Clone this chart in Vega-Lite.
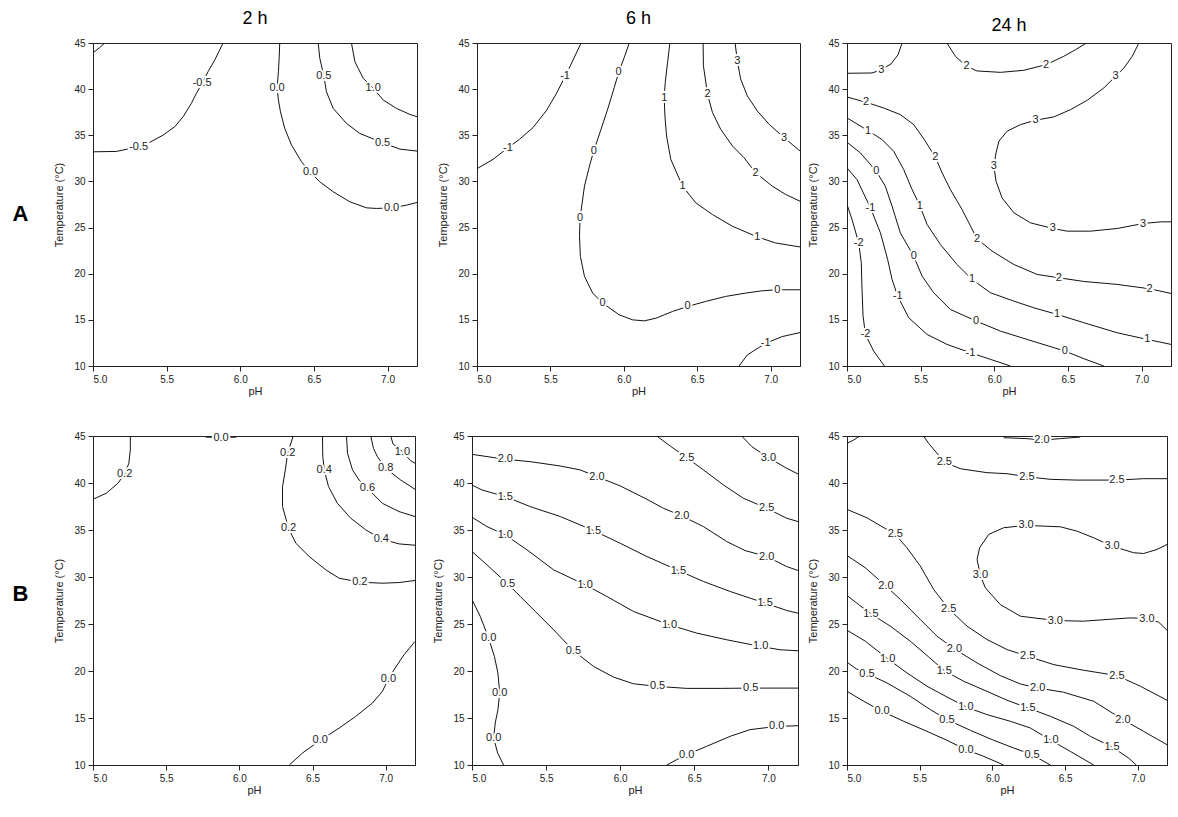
{
  "$schema": "https://vega.github.io/schema/vega-lite/v6.json",
  "padding": {"left": 12, "top": 9, "right": 5, "bottom": 5},
  "background": "white",
  "config": {
    "font": "Liberation Sans",
    "view": {"stroke": "#222", "strokeWidth": 1},
    "axis": {
      "grid": false, "domainColor": "#222", "tickColor": "#222", "labelColor": "#222",
      "labelFont": "Liberation Sans", "labelFontSize": 10, "tickSize": 5, "labelPadding": 3,
      "titleFont": "Liberation Sans", "titleFontSize": 11, "titleFontWeight": "normal", "titleColor": "#222"
    },
    "axisX": {"titlePadding": 1},
    "axisY": {"titlePadding": 9},
    "line": {"color": "#111", "strokeWidth": 1},
    "text": {"fontSize": 11, "color": "#222", "font": "Liberation Sans", "baseline": "middle"},
    "title": {"font": "Liberation Sans", "fontSize": 18, "fontWeight": "normal", "color": "#000", "anchor": "middle", "baseline": "alphabetic"}
  },
  "datasets": {
    "A1_lines": [
      {"id": 1, "pH": 5.005, "temp": 43.99}, {"id": 1, "pH": 5.045, "temp": 44.5}, {"id": 1, "pH": 5.08, "temp": 45},
      {"id": 2, "pH": 5.0, "temp": 33.21}, {"id": 2, "pH": 5.159, "temp": 33.25}, {"id": 2, "pH": 5.31, "temp": 33.76}, {"id": 2, "pH": 5.385, "temp": 34.23}, {"id": 2, "pH": 5.476, "temp": 35.02}, {"id": 2, "pH": 5.555, "temp": 35.93}, {"id": 2, "pH": 5.612, "temp": 37.01}, {"id": 2, "pH": 5.668, "temp": 38.46}, {"id": 2, "pH": 5.702, "temp": 39.54}, {"id": 2, "pH": 5.741, "temp": 40.63}, {"id": 2, "pH": 5.781, "temp": 41.89}, {"id": 2, "pH": 5.827, "temp": 43.16}, {"id": 2, "pH": 5.883, "temp": 45},
      {"id": 3, "pH": 6.268, "temp": 45}, {"id": 3, "pH": 6.264, "temp": 43.34}, {"id": 3, "pH": 6.259, "temp": 41.89}, {"id": 3, "pH": 6.25, "temp": 40.16}, {"id": 3, "pH": 6.259, "temp": 38.82}, {"id": 3, "pH": 6.273, "temp": 37.55}, {"id": 3, "pH": 6.302, "temp": 35.74}, {"id": 3, "pH": 6.348, "temp": 33.94}, {"id": 3, "pH": 6.416, "temp": 32.13}, {"id": 3, "pH": 6.477, "temp": 30.97}, {"id": 3, "pH": 6.54, "temp": 29.96}, {"id": 3, "pH": 6.631, "temp": 28.88}, {"id": 3, "pH": 6.744, "temp": 27.79}, {"id": 3, "pH": 6.857, "temp": 27.14}, {"id": 3, "pH": 6.925, "temp": 27.07}, {"id": 3, "pH": 7.027, "temp": 27.14}, {"id": 3, "pH": 7.129, "temp": 27.43}, {"id": 3, "pH": 7.2, "temp": 27.72},
      {"id": 4, "pH": 6.529, "temp": 45}, {"id": 4, "pH": 6.54, "temp": 43.34}, {"id": 4, "pH": 6.567, "temp": 41.46}, {"id": 4, "pH": 6.585, "temp": 39.72}, {"id": 4, "pH": 6.631, "temp": 37.91}, {"id": 4, "pH": 6.721, "temp": 36.29}, {"id": 4, "pH": 6.812, "temp": 35.2}, {"id": 4, "pH": 6.966, "temp": 34.19}, {"id": 4, "pH": 7.084, "temp": 33.5}, {"id": 4, "pH": 7.2, "temp": 33.29},
      {"id": 5, "pH": 6.755, "temp": 45}, {"id": 5, "pH": 6.778, "temp": 42.98}, {"id": 5, "pH": 6.835, "temp": 41.17}, {"id": 5, "pH": 6.903, "temp": 40.08}, {"id": 5, "pH": 6.971, "temp": 38.82}, {"id": 5, "pH": 7.061, "temp": 37.91}, {"id": 5, "pH": 7.152, "temp": 37.26}, {"id": 5, "pH": 7.2, "temp": 37.01}
    ],
    "A1_labels": [
      {"label": "-0.5", "pH": 5.31, "temp": 33.76}, {"label": "-0.5", "pH": 5.741, "temp": 40.63},
      {"label": "0.0", "pH": 6.25, "temp": 40.16}, {"label": "0.0", "pH": 6.477, "temp": 30.97}, {"label": "0.0", "pH": 7.027, "temp": 27.14},
      {"label": "0.5", "pH": 6.567, "temp": 41.46}, {"label": "0.5", "pH": 6.966, "temp": 34.19},
      {"label": "1.0", "pH": 6.903, "temp": 40.08}
    ],
    "A2_lines": [
      {"id": 1, "pH": 5.0, "temp": 31.38}, {"id": 1, "pH": 5.109, "temp": 32.39}, {"id": 1, "pH": 5.211, "temp": 33.66}, {"id": 1, "pH": 5.29, "temp": 34.57}, {"id": 1, "pH": 5.381, "temp": 35.83}, {"id": 1, "pH": 5.471, "temp": 37.64}, {"id": 1, "pH": 5.539, "temp": 39.46}, {"id": 1, "pH": 5.6, "temp": 41.38}, {"id": 1, "pH": 5.652, "temp": 43.08}, {"id": 1, "pH": 5.709, "temp": 45},
      {"id": 2, "pH": 6.785, "temp": 10}, {"id": 2, "pH": 6.841, "temp": 11.2}, {"id": 2, "pH": 6.966, "temp": 12.46}, {"id": 2, "pH": 7.079, "temp": 13.19}, {"id": 2, "pH": 7.2, "temp": 13.62},
      {"id": 3, "pH": 6.037, "temp": 45}, {"id": 3, "pH": 6.003, "temp": 43.44}, {"id": 3, "pH": 5.965, "temp": 41.81}, {"id": 3, "pH": 5.935, "temp": 40.18}, {"id": 3, "pH": 5.89, "temp": 37.83}, {"id": 3, "pH": 5.845, "temp": 35.65}, {"id": 3, "pH": 5.795, "temp": 33.3}, {"id": 3, "pH": 5.766, "temp": 31.67}, {"id": 3, "pH": 5.732, "temp": 29.49}, {"id": 3, "pH": 5.702, "temp": 26.05}, {"id": 3, "pH": 5.698, "temp": 24.06}, {"id": 3, "pH": 5.704, "temp": 21.88}, {"id": 3, "pH": 5.732, "temp": 19.71}, {"id": 3, "pH": 5.788, "temp": 17.9}, {"id": 3, "pH": 5.856, "temp": 16.81}, {"id": 3, "pH": 5.969, "temp": 15.54}, {"id": 3, "pH": 6.06, "temp": 15.0}, {"id": 3, "pH": 6.139, "temp": 14.89}, {"id": 3, "pH": 6.219, "temp": 15.18}, {"id": 3, "pH": 6.332, "temp": 15.91}, {"id": 3, "pH": 6.434, "temp": 16.45}, {"id": 3, "pH": 6.558, "temp": 17.0}, {"id": 3, "pH": 6.694, "temp": 17.54}, {"id": 3, "pH": 6.83, "temp": 17.9}, {"id": 3, "pH": 6.943, "temp": 18.15}, {"id": 3, "pH": 7.045, "temp": 18.26}, {"id": 3, "pH": 7.2, "temp": 18.26},
      {"id": 4, "pH": 6.314, "temp": 45}, {"id": 4, "pH": 6.298, "temp": 42.9}, {"id": 4, "pH": 6.282, "temp": 40.72}, {"id": 4, "pH": 6.275, "temp": 38.99}, {"id": 4, "pH": 6.28, "temp": 37.1}, {"id": 4, "pH": 6.291, "temp": 34.93}, {"id": 4, "pH": 6.32, "temp": 32.39}, {"id": 4, "pH": 6.4, "temp": 29.49}, {"id": 4, "pH": 6.49, "temp": 27.68}, {"id": 4, "pH": 6.604, "temp": 26.41}, {"id": 4, "pH": 6.74, "temp": 25.14}, {"id": 4, "pH": 6.909, "temp": 23.99}, {"id": 4, "pH": 7.034, "temp": 23.33}, {"id": 4, "pH": 7.2, "temp": 22.9},
      {"id": 5, "pH": 6.54, "temp": 45}, {"id": 5, "pH": 6.542, "temp": 42.54}, {"id": 5, "pH": 6.57, "temp": 39.46}, {"id": 5, "pH": 6.604, "temp": 37.46}, {"id": 5, "pH": 6.66, "temp": 35.65}, {"id": 5, "pH": 6.74, "temp": 33.84}, {"id": 5, "pH": 6.819, "temp": 32.57}, {"id": 5, "pH": 6.898, "temp": 30.94}, {"id": 5, "pH": 7.011, "temp": 29.49}, {"id": 5, "pH": 7.102, "temp": 28.59}, {"id": 5, "pH": 7.2, "temp": 27.86},
      {"id": 6, "pH": 6.758, "temp": 45}, {"id": 6, "pH": 6.773, "temp": 43.08}, {"id": 6, "pH": 6.796, "temp": 41.09}, {"id": 6, "pH": 6.841, "temp": 39.28}, {"id": 6, "pH": 6.909, "temp": 37.64}, {"id": 6, "pH": 6.989, "temp": 36.2}, {"id": 6, "pH": 7.091, "temp": 34.75}, {"id": 6, "pH": 7.2, "temp": 33.3}
    ],
    "A2_labels": [
      {"label": "-1", "pH": 5.211, "temp": 33.66}, {"label": "-1", "pH": 5.6, "temp": 41.38}, {"label": "-1", "pH": 6.966, "temp": 12.46},
      {"label": "0", "pH": 5.965, "temp": 41.81}, {"label": "0", "pH": 5.795, "temp": 33.3}, {"label": "0", "pH": 5.702, "temp": 26.05}, {"label": "0", "pH": 5.856, "temp": 16.81}, {"label": "0", "pH": 6.434, "temp": 16.45}, {"label": "0", "pH": 7.045, "temp": 18.26},
      {"label": "1", "pH": 6.275, "temp": 38.99}, {"label": "1", "pH": 6.4, "temp": 29.49}, {"label": "1", "pH": 6.909, "temp": 23.99},
      {"label": "2", "pH": 6.57, "temp": 39.46}, {"label": "2", "pH": 6.898, "temp": 30.94},
      {"label": "3", "pH": 6.773, "temp": 43.08}, {"label": "3", "pH": 7.091, "temp": 34.75}
    ],
    "A3_lines": [
      {"id": 1, "pH": 5.0, "temp": 41.72}, {"id": 1, "pH": 5.17, "temp": 41.75}, {"id": 1, "pH": 5.233, "temp": 42.11}, {"id": 1, "pH": 5.299, "temp": 42.73}, {"id": 1, "pH": 5.347, "temp": 43.74}, {"id": 1, "pH": 5.374, "temp": 45},
      {"id": 2, "pH": 5.679, "temp": 45}, {"id": 2, "pH": 5.736, "temp": 43.56}, {"id": 2, "pH": 5.811, "temp": 42.47}, {"id": 2, "pH": 5.883, "temp": 41.97}, {"id": 2, "pH": 6.042, "temp": 41.82}, {"id": 2, "pH": 6.2, "temp": 42.04}, {"id": 2, "pH": 6.352, "temp": 42.65}, {"id": 2, "pH": 6.472, "temp": 43.56}, {"id": 2, "pH": 6.552, "temp": 44.28}, {"id": 2, "pH": 6.626, "temp": 45},
      {"id": 3, "pH": 6.982, "temp": 45}, {"id": 3, "pH": 6.937, "temp": 43.56}, {"id": 3, "pH": 6.88, "temp": 42.29}, {"id": 3, "pH": 6.823, "temp": 41.39}, {"id": 3, "pH": 6.744, "temp": 40.13}, {"id": 3, "pH": 6.631, "temp": 38.79}, {"id": 3, "pH": 6.518, "temp": 37.78}, {"id": 3, "pH": 6.404, "temp": 36.99}, {"id": 3, "pH": 6.28, "temp": 36.63}, {"id": 3, "pH": 6.178, "temp": 36.16}, {"id": 3, "pH": 6.087, "temp": 35.44}, {"id": 3, "pH": 6.031, "temp": 34.35}, {"id": 3, "pH": 6.012, "temp": 33.09}, {"id": 3, "pH": 5.997, "temp": 31.65}, {"id": 3, "pH": 6.012, "temp": 30.02}, {"id": 3, "pH": 6.053, "temp": 28.22}, {"id": 3, "pH": 6.133, "temp": 26.6}, {"id": 3, "pH": 6.246, "temp": 25.51}, {"id": 3, "pH": 6.398, "temp": 24.9}, {"id": 3, "pH": 6.495, "temp": 24.61}, {"id": 3, "pH": 6.653, "temp": 24.61}, {"id": 3, "pH": 6.835, "temp": 24.9}, {"id": 3, "pH": 7.011, "temp": 25.44}, {"id": 3, "pH": 7.129, "temp": 25.62}, {"id": 3, "pH": 7.2, "temp": 25.62},
      {"id": 4, "pH": 5.0, "temp": 39.15}, {"id": 4, "pH": 5.129, "temp": 38.58}, {"id": 4, "pH": 5.249, "temp": 37.96}, {"id": 4, "pH": 5.362, "temp": 37.24}, {"id": 4, "pH": 5.453, "temp": 36.16}, {"id": 4, "pH": 5.525, "temp": 34.53}, {"id": 4, "pH": 5.6, "temp": 32.62}, {"id": 4, "pH": 5.646, "temp": 30.93}, {"id": 4, "pH": 5.702, "temp": 29.12}, {"id": 4, "pH": 5.781, "temp": 26.96}, {"id": 4, "pH": 5.883, "temp": 23.78}, {"id": 4, "pH": 5.985, "temp": 22.45}, {"id": 4, "pH": 6.133, "temp": 21.0}, {"id": 4, "pH": 6.291, "temp": 19.92}, {"id": 4, "pH": 6.438, "temp": 19.56}, {"id": 4, "pH": 6.608, "temp": 19.16}, {"id": 4, "pH": 6.835, "temp": 18.84}, {"id": 4, "pH": 7.054, "temp": 18.37}, {"id": 4, "pH": 7.2, "temp": 17.86},
      {"id": 5, "pH": 5.0, "temp": 36.88}, {"id": 5, "pH": 5.143, "temp": 35.51}, {"id": 5, "pH": 5.238, "temp": 34.53}, {"id": 5, "pH": 5.317, "temp": 33.27}, {"id": 5, "pH": 5.385, "temp": 31.29}, {"id": 5, "pH": 5.442, "temp": 29.12}, {"id": 5, "pH": 5.494, "temp": 27.39}, {"id": 5, "pH": 5.544, "temp": 25.33}, {"id": 5, "pH": 5.634, "temp": 23.17}, {"id": 5, "pH": 5.747, "temp": 21.0}, {"id": 5, "pH": 5.849, "temp": 19.38}, {"id": 5, "pH": 5.974, "temp": 17.94}, {"id": 5, "pH": 6.133, "temp": 17.03}, {"id": 5, "pH": 6.268, "temp": 16.31}, {"id": 5, "pH": 6.427, "temp": 15.59}, {"id": 5, "pH": 6.608, "temp": 14.69}, {"id": 5, "pH": 6.835, "temp": 13.6}, {"id": 5, "pH": 7.039, "temp": 12.88}, {"id": 5, "pH": 7.2, "temp": 12.34},
      {"id": 6, "pH": 5.0, "temp": 34.25}, {"id": 6, "pH": 5.091, "temp": 33.09}, {"id": 6, "pH": 5.199, "temp": 31.11}, {"id": 6, "pH": 5.26, "temp": 29.48}, {"id": 6, "pH": 5.306, "temp": 27.32}, {"id": 6, "pH": 5.362, "temp": 24.43}, {"id": 6, "pH": 5.453, "temp": 21.9}, {"id": 6, "pH": 5.51, "temp": 19.74}, {"id": 6, "pH": 5.589, "temp": 17.93}, {"id": 6, "pH": 5.702, "temp": 16.13}, {"id": 6, "pH": 5.877, "temp": 14.87}, {"id": 6, "pH": 6.042, "temp": 13.78}, {"id": 6, "pH": 6.223, "temp": 12.88}, {"id": 6, "pH": 6.479, "temp": 11.62}, {"id": 6, "pH": 6.608, "temp": 10.79}, {"id": 6, "pH": 6.744, "temp": 10.0},
      {"id": 7, "pH": 5.0, "temp": 31.47}, {"id": 7, "pH": 5.068, "temp": 30.2}, {"id": 7, "pH": 5.159, "temp": 27.14}, {"id": 7, "pH": 5.227, "temp": 24.43}, {"id": 7, "pH": 5.276, "temp": 21.54}, {"id": 7, "pH": 5.306, "temp": 19.38}, {"id": 7, "pH": 5.344, "temp": 17.57}, {"id": 7, "pH": 5.419, "temp": 15.23}, {"id": 7, "pH": 5.544, "temp": 13.42}, {"id": 7, "pH": 5.679, "temp": 12.34}, {"id": 7, "pH": 5.838, "temp": 11.44}, {"id": 7, "pH": 5.974, "temp": 10.72}, {"id": 7, "pH": 6.11, "temp": 10.0},
      {"id": 8, "pH": 5.0, "temp": 27.5}, {"id": 8, "pH": 5.034, "temp": 25.88}, {"id": 8, "pH": 5.079, "temp": 23.37}, {"id": 8, "pH": 5.097, "temp": 21.2}, {"id": 8, "pH": 5.102, "temp": 18.34}, {"id": 8, "pH": 5.109, "temp": 15.45}, {"id": 8, "pH": 5.125, "temp": 13.42}, {"id": 8, "pH": 5.181, "temp": 11.62}, {"id": 8, "pH": 5.254, "temp": 10.0}
    ],
    "A3_labels": [
      {"label": "3", "pH": 5.233, "temp": 42.11}, {"label": "2", "pH": 5.811, "temp": 42.47}, {"label": "2", "pH": 6.352, "temp": 42.65},
      {"label": "3", "pH": 6.823, "temp": 41.39}, {"label": "3", "pH": 6.28, "temp": 36.63}, {"label": "3", "pH": 5.997, "temp": 31.65}, {"label": "3", "pH": 6.398, "temp": 24.9}, {"label": "3", "pH": 7.011, "temp": 25.44},
      {"label": "2", "pH": 5.129, "temp": 38.58}, {"label": "2", "pH": 5.6, "temp": 32.62}, {"label": "2", "pH": 5.883, "temp": 23.78}, {"label": "2", "pH": 6.438, "temp": 19.56}, {"label": "2", "pH": 7.054, "temp": 18.37},
      {"label": "1", "pH": 5.143, "temp": 35.51}, {"label": "1", "pH": 5.494, "temp": 27.39}, {"label": "1", "pH": 5.849, "temp": 19.38}, {"label": "1", "pH": 6.427, "temp": 15.59}, {"label": "1", "pH": 7.039, "temp": 12.88},
      {"label": "0", "pH": 5.199, "temp": 31.11}, {"label": "0", "pH": 5.453, "temp": 21.9}, {"label": "0", "pH": 5.877, "temp": 14.87}, {"label": "0", "pH": 6.479, "temp": 11.62},
      {"label": "-1", "pH": 5.159, "temp": 27.14}, {"label": "-1", "pH": 5.344, "temp": 17.57}, {"label": "-1", "pH": 5.838, "temp": 11.44},
      {"label": "-2", "pH": 5.079, "temp": 23.37}, {"label": "-2", "pH": 5.125, "temp": 13.42}
    ],
    "B1_lines": [
      {"id": 1, "pH": 5.0, "temp": 38.27}, {"id": 1, "pH": 5.091, "temp": 38.91}, {"id": 1, "pH": 5.17, "temp": 39.97}, {"id": 1, "pH": 5.216, "temp": 40.93}, {"id": 1, "pH": 5.245, "temp": 42.1}, {"id": 1, "pH": 5.255, "temp": 43.51}, {"id": 1, "pH": 5.255, "temp": 45},
      {"id": 2, "pH": 5.77, "temp": 44.88}, {"id": 2, "pH": 5.875, "temp": 44.85}, {"id": 2, "pH": 5.98, "temp": 44.88},
      {"id": 3, "pH": 6.368, "temp": 45}, {"id": 3, "pH": 6.33, "temp": 43.16}, {"id": 3, "pH": 6.314, "temp": 41.39}, {"id": 3, "pH": 6.295, "temp": 39.62}, {"id": 3, "pH": 6.295, "temp": 37.49}, {"id": 3, "pH": 6.336, "temp": 35.19}, {"id": 3, "pH": 6.386, "temp": 33.59}, {"id": 3, "pH": 6.477, "temp": 32.18}, {"id": 3, "pH": 6.591, "temp": 30.76}, {"id": 3, "pH": 6.682, "temp": 29.87}, {"id": 3, "pH": 6.823, "temp": 29.45}, {"id": 3, "pH": 6.977, "temp": 29.34}, {"id": 3, "pH": 7.091, "temp": 29.41}, {"id": 3, "pH": 7.2, "temp": 29.63},
      {"id": 4, "pH": 6.568, "temp": 45}, {"id": 4, "pH": 6.57, "temp": 42.8}, {"id": 4, "pH": 6.58, "temp": 41.39}, {"id": 4, "pH": 6.609, "temp": 39.62}, {"id": 4, "pH": 6.67, "temp": 37.84}, {"id": 4, "pH": 6.761, "temp": 36.25}, {"id": 4, "pH": 6.864, "temp": 35.01}, {"id": 4, "pH": 6.97, "temp": 34.05}, {"id": 4, "pH": 7.091, "temp": 33.52}, {"id": 4, "pH": 7.2, "temp": 33.38},
      {"id": 5, "pH": 6.732, "temp": 45}, {"id": 5, "pH": 6.739, "temp": 43.16}, {"id": 5, "pH": 6.773, "temp": 41.39}, {"id": 5, "pH": 6.818, "temp": 40.32}, {"id": 5, "pH": 6.875, "temp": 39.44}, {"id": 5, "pH": 6.977, "temp": 37.84}, {"id": 5, "pH": 7.091, "temp": 36.96}, {"id": 5, "pH": 7.2, "temp": 36.43},
      {"id": 6, "pH": 6.898, "temp": 45}, {"id": 6, "pH": 6.916, "temp": 43.69}, {"id": 6, "pH": 6.943, "temp": 42.8}, {"id": 6, "pH": 7.0, "temp": 41.56}, {"id": 6, "pH": 7.102, "temp": 40.32}, {"id": 6, "pH": 7.2, "temp": 39.33},
      {"id": 7, "pH": 7.034, "temp": 45}, {"id": 7, "pH": 7.05, "temp": 44.15}, {"id": 7, "pH": 7.114, "temp": 43.34}, {"id": 7, "pH": 7.17, "temp": 42.38}, {"id": 7, "pH": 7.2, "temp": 42.1},
      {"id": 8, "pH": 6.341, "temp": 10}, {"id": 8, "pH": 6.432, "temp": 11.28}, {"id": 8, "pH": 6.552, "temp": 12.62}, {"id": 8, "pH": 6.682, "temp": 13.93}, {"id": 8, "pH": 6.795, "temp": 15.17}, {"id": 8, "pH": 6.909, "temp": 16.59}, {"id": 8, "pH": 6.977, "temp": 17.83}, {"id": 8, "pH": 7.018, "temp": 19.14}, {"id": 8, "pH": 7.064, "temp": 20.31}, {"id": 8, "pH": 7.125, "temp": 21.73}, {"id": 8, "pH": 7.2, "temp": 23.14}
    ],
    "B1_labels": [
      {"label": "0.2", "pH": 5.216, "temp": 40.93}, {"label": "0.0", "pH": 5.875, "temp": 44.75},
      {"label": "0.2", "pH": 6.33, "temp": 43.16}, {"label": "0.2", "pH": 6.336, "temp": 35.19}, {"label": "0.2", "pH": 6.823, "temp": 29.45},
      {"label": "0.4", "pH": 6.58, "temp": 41.39}, {"label": "0.4", "pH": 6.97, "temp": 34.05},
      {"label": "0.6", "pH": 6.875, "temp": 39.44}, {"label": "0.8", "pH": 7.0, "temp": 41.56}, {"label": "1.0", "pH": 7.114, "temp": 43.34},
      {"label": "0.0", "pH": 6.552, "temp": 12.62}, {"label": "0.0", "pH": 7.018, "temp": 19.14}
    ],
    "B2_lines": [
      {"id": 1, "pH": 5.0, "temp": 43.05}, {"id": 1, "pH": 5.225, "temp": 42.52}, {"id": 1, "pH": 5.393, "temp": 42.27}, {"id": 1, "pH": 5.596, "temp": 41.81}, {"id": 1, "pH": 5.73, "temp": 41.39}, {"id": 1, "pH": 5.843, "temp": 40.68}, {"id": 1, "pH": 6.0, "temp": 39.69}, {"id": 1, "pH": 6.18, "temp": 38.27}, {"id": 1, "pH": 6.292, "temp": 37.31}, {"id": 1, "pH": 6.416, "temp": 36.5}, {"id": 1, "pH": 6.562, "temp": 35.36}, {"id": 1, "pH": 6.719, "temp": 33.77}, {"id": 1, "pH": 6.843, "temp": 32.81}, {"id": 1, "pH": 6.989, "temp": 32.18}, {"id": 1, "pH": 7.124, "temp": 31.11}, {"id": 1, "pH": 7.2, "temp": 30.69},
      {"id": 2, "pH": 6.247, "temp": 45}, {"id": 2, "pH": 6.337, "temp": 43.94}, {"id": 2, "pH": 6.449, "temp": 42.7}, {"id": 2, "pH": 6.562, "temp": 41.39}, {"id": 2, "pH": 6.697, "temp": 39.79}, {"id": 2, "pH": 6.831, "temp": 38.38}, {"id": 2, "pH": 6.989, "temp": 37.31}, {"id": 2, "pH": 7.124, "temp": 36.25}, {"id": 2, "pH": 7.2, "temp": 35.9},
      {"id": 3, "pH": 6.82, "temp": 45}, {"id": 3, "pH": 6.888, "temp": 43.87}, {"id": 3, "pH": 7.0, "temp": 42.7}, {"id": 3, "pH": 7.124, "temp": 41.56}, {"id": 3, "pH": 7.2, "temp": 40.96},
      {"id": 4, "pH": 5.0, "temp": 39.79}, {"id": 4, "pH": 5.067, "temp": 39.26}, {"id": 4, "pH": 5.225, "temp": 38.55}, {"id": 4, "pH": 5.393, "temp": 37.49}, {"id": 4, "pH": 5.596, "temp": 36.43}, {"id": 4, "pH": 5.82, "temp": 34.94}, {"id": 4, "pH": 6.0, "temp": 33.59}, {"id": 4, "pH": 6.18, "temp": 32.18}, {"id": 4, "pH": 6.393, "temp": 30.69}, {"id": 4, "pH": 6.562, "temp": 29.52}, {"id": 4, "pH": 6.742, "temp": 28.46}, {"id": 4, "pH": 6.978, "temp": 27.22}, {"id": 4, "pH": 7.124, "temp": 26.44}, {"id": 4, "pH": 7.2, "temp": 26.15},
      {"id": 5, "pH": 5.0, "temp": 36.36}, {"id": 5, "pH": 5.101, "temp": 35.36}, {"id": 5, "pH": 5.225, "temp": 34.48}, {"id": 5, "pH": 5.371, "temp": 32.89}, {"id": 5, "pH": 5.551, "temp": 30.76}, {"id": 5, "pH": 5.764, "temp": 29.17}, {"id": 5, "pH": 5.91, "temp": 27.93}, {"id": 5, "pH": 6.09, "temp": 26.33}, {"id": 5, "pH": 6.333, "temp": 24.91}, {"id": 5, "pH": 6.517, "temp": 24.03}, {"id": 5, "pH": 6.719, "temp": 23.32}, {"id": 5, "pH": 6.948, "temp": 22.61}, {"id": 5, "pH": 7.079, "temp": 22.26}, {"id": 5, "pH": 7.2, "temp": 22.15},
      {"id": 6, "pH": 5.0, "temp": 32.71}, {"id": 6, "pH": 5.101, "temp": 31.29}, {"id": 6, "pH": 5.24, "temp": 29.27}, {"id": 6, "pH": 5.326, "temp": 27.93}, {"id": 6, "pH": 5.427, "temp": 26.33}, {"id": 6, "pH": 5.551, "temp": 24.38}, {"id": 6, "pH": 5.685, "temp": 22.15}, {"id": 6, "pH": 5.82, "temp": 20.49}, {"id": 6, "pH": 5.955, "temp": 19.35}, {"id": 6, "pH": 6.09, "temp": 18.64}, {"id": 6, "pH": 6.252, "temp": 18.36}, {"id": 6, "pH": 6.449, "temp": 18.15}, {"id": 6, "pH": 6.674, "temp": 18.15}, {"id": 6, "pH": 6.881, "temp": 18.18}, {"id": 6, "pH": 7.2, "temp": 18.18},
      {"id": 7, "pH": 5.0, "temp": 27.6}, {"id": 7, "pH": 5.056, "temp": 25.8}, {"id": 7, "pH": 5.112, "temp": 23.5}, {"id": 7, "pH": 5.151, "temp": 21.55}, {"id": 7, "pH": 5.175, "temp": 19.78}, {"id": 7, "pH": 5.187, "temp": 17.65}, {"id": 7, "pH": 5.175, "temp": 15.88}, {"id": 7, "pH": 5.157, "temp": 14.47}, {"id": 7, "pH": 5.146, "temp": 12.87}, {"id": 7, "pH": 5.173, "temp": 11.28}, {"id": 7, "pH": 5.213, "temp": 10.0},
      {"id": 8, "pH": 6.315, "temp": 10}, {"id": 8, "pH": 6.382, "temp": 10.57}, {"id": 8, "pH": 6.449, "temp": 11.1}, {"id": 8, "pH": 6.584, "temp": 11.99}, {"id": 8, "pH": 6.742, "temp": 13.05}, {"id": 8, "pH": 6.876, "temp": 13.76}, {"id": 8, "pH": 7.056, "temp": 14.11}, {"id": 8, "pH": 7.2, "temp": 14.18}
    ],
    "B2_labels": [
      {"label": "2.0", "pH": 5.225, "temp": 42.52}, {"label": "2.0", "pH": 5.843, "temp": 40.68}, {"label": "2.0", "pH": 6.416, "temp": 36.5}, {"label": "2.0", "pH": 6.989, "temp": 32.18},
      {"label": "2.5", "pH": 6.449, "temp": 42.7}, {"label": "2.5", "pH": 6.989, "temp": 37.31}, {"label": "3.0", "pH": 7.0, "temp": 42.7},
      {"label": "1.5", "pH": 5.225, "temp": 38.55}, {"label": "1.5", "pH": 5.82, "temp": 34.94}, {"label": "1.5", "pH": 6.393, "temp": 30.69}, {"label": "1.5", "pH": 6.978, "temp": 27.22},
      {"label": "1.0", "pH": 5.225, "temp": 34.48}, {"label": "1.0", "pH": 5.764, "temp": 29.17}, {"label": "1.0", "pH": 6.333, "temp": 24.91}, {"label": "1.0", "pH": 6.948, "temp": 22.61},
      {"label": "0.5", "pH": 5.24, "temp": 29.27}, {"label": "0.5", "pH": 5.685, "temp": 22.15}, {"label": "0.5", "pH": 6.252, "temp": 18.36}, {"label": "0.5", "pH": 6.881, "temp": 18.18},
      {"label": "0.0", "pH": 5.112, "temp": 23.5}, {"label": "0.0", "pH": 5.187, "temp": 17.65}, {"label": "0.0", "pH": 5.146, "temp": 12.87}, {"label": "0.0", "pH": 6.449, "temp": 11.1}, {"label": "0.0", "pH": 7.056, "temp": 14.11}
    ],
    "B3_lines": [
      {"id": 1, "pH": 5.0, "temp": 44.22}, {"id": 1, "pH": 5.046, "temp": 44.57}, {"id": 1, "pH": 5.087, "temp": 45},
      {"id": 2, "pH": 6.077, "temp": 44.82}, {"id": 2, "pH": 6.237, "temp": 44.72}, {"id": 2, "pH": 6.34, "temp": 44.57}, {"id": 2, "pH": 6.467, "temp": 44.72}, {"id": 2, "pH": 6.604, "temp": 44.89},
      {"id": 3, "pH": 5.527, "temp": 45}, {"id": 3, "pH": 5.561, "temp": 44.22}, {"id": 3, "pH": 5.669, "temp": 42.23}, {"id": 3, "pH": 5.779, "temp": 41.52}, {"id": 3, "pH": 5.962, "temp": 41.1}, {"id": 3, "pH": 6.1, "temp": 40.99}, {"id": 3, "pH": 6.237, "temp": 40.67}, {"id": 3, "pH": 6.398, "temp": 40.39}, {"id": 3, "pH": 6.581, "temp": 40.31}, {"id": 3, "pH": 6.856, "temp": 40.31}, {"id": 3, "pH": 7.039, "temp": 40.46}, {"id": 3, "pH": 7.2, "temp": 40.46},
      {"id": 4, "pH": 5.0, "temp": 37.19}, {"id": 4, "pH": 5.137, "temp": 36.3}, {"id": 4, "pH": 5.332, "temp": 34.53}, {"id": 4, "pH": 5.412, "temp": 33.11}, {"id": 4, "pH": 5.504, "temp": 31.16}, {"id": 4, "pH": 5.596, "temp": 28.67}, {"id": 4, "pH": 5.699, "temp": 26.61}, {"id": 4, "pH": 5.825, "temp": 24.77}, {"id": 4, "pH": 5.962, "temp": 23.35}, {"id": 4, "pH": 6.1, "temp": 22.28}, {"id": 4, "pH": 6.242, "temp": 21.57}, {"id": 4, "pH": 6.421, "temp": 20.68}, {"id": 4, "pH": 6.627, "temp": 20.08}, {"id": 4, "pH": 6.856, "temp": 19.51}, {"id": 4, "pH": 7.017, "temp": 18.38}, {"id": 4, "pH": 7.2, "temp": 16.89},
      {"id": 5, "pH": 7.2, "temp": 33.46}, {"id": 5, "pH": 7.131, "temp": 32.93}, {"id": 5, "pH": 7.039, "temp": 32.5}, {"id": 5, "pH": 6.971, "temp": 32.58}, {"id": 5, "pH": 6.822, "temp": 33.29}, {"id": 5, "pH": 6.696, "temp": 34.17}, {"id": 5, "pH": 6.581, "temp": 34.88}, {"id": 5, "pH": 6.467, "temp": 35.34}, {"id": 5, "pH": 6.231, "temp": 35.49}, {"id": 5, "pH": 6.077, "temp": 35.24}, {"id": 5, "pH": 5.974, "temp": 34.53}, {"id": 5, "pH": 5.912, "temp": 33.11}, {"id": 5, "pH": 5.894, "temp": 31.87}, {"id": 5, "pH": 5.917, "temp": 30.16}, {"id": 5, "pH": 5.951, "temp": 28.85}, {"id": 5, "pH": 6.054, "temp": 27.07}, {"id": 5, "pH": 6.192, "temp": 25.83}, {"id": 5, "pH": 6.432, "temp": 25.37}, {"id": 5, "pH": 6.627, "temp": 25.3}, {"id": 5, "pH": 6.787, "temp": 25.48}, {"id": 5, "pH": 6.948, "temp": 25.65}, {"id": 5, "pH": 7.062, "temp": 25.58}, {"id": 5, "pH": 7.143, "temp": 25.19}, {"id": 5, "pH": 7.2, "temp": 24.34},
      {"id": 6, "pH": 5.0, "temp": 32.29}, {"id": 6, "pH": 5.126, "temp": 30.98}, {"id": 6, "pH": 5.268, "temp": 29.03}, {"id": 6, "pH": 5.367, "temp": 27.61}, {"id": 6, "pH": 5.504, "temp": 25.48}, {"id": 6, "pH": 5.619, "temp": 23.7}, {"id": 6, "pH": 5.738, "temp": 22.35}, {"id": 6, "pH": 5.894, "temp": 20.86}, {"id": 6, "pH": 6.054, "temp": 19.51}, {"id": 6, "pH": 6.192, "temp": 18.62}, {"id": 6, "pH": 6.311, "temp": 18.2}, {"id": 6, "pH": 6.489, "temp": 17.74}, {"id": 6, "pH": 6.696, "temp": 16.78}, {"id": 6, "pH": 6.897, "temp": 14.83}, {"id": 6, "pH": 7.039, "temp": 13.58}, {"id": 6, "pH": 7.2, "temp": 12.16},
      {"id": 7, "pH": 5.0, "temp": 28.03}, {"id": 7, "pH": 5.08, "temp": 27.07}, {"id": 7, "pH": 5.165, "temp": 26.08}, {"id": 7, "pH": 5.298, "temp": 24.77}, {"id": 7, "pH": 5.435, "temp": 23.17}, {"id": 7, "pH": 5.561, "temp": 21.5}, {"id": 7, "pH": 5.669, "temp": 20.04}, {"id": 7, "pH": 5.802, "temp": 18.91}, {"id": 7, "pH": 5.962, "temp": 17.84}, {"id": 7, "pH": 6.1, "temp": 16.89}, {"id": 7, "pH": 6.244, "temp": 16.07}, {"id": 7, "pH": 6.398, "temp": 15.18}, {"id": 7, "pH": 6.558, "temp": 14.12}, {"id": 7, "pH": 6.673, "temp": 13.05}, {"id": 7, "pH": 6.822, "temp": 11.92}, {"id": 7, "pH": 6.936, "temp": 10.74}, {"id": 7, "pH": 6.989, "temp": 10.0},
      {"id": 8, "pH": 5.0, "temp": 24.34}, {"id": 8, "pH": 5.126, "temp": 23.17}, {"id": 8, "pH": 5.28, "temp": 21.29}, {"id": 8, "pH": 5.412, "temp": 19.8}, {"id": 8, "pH": 5.55, "temp": 18.38}, {"id": 8, "pH": 5.687, "temp": 17.24}, {"id": 8, "pH": 5.818, "temp": 16.18}, {"id": 8, "pH": 5.962, "temp": 15.36}, {"id": 8, "pH": 6.123, "temp": 14.65}, {"id": 8, "pH": 6.26, "temp": 13.94}, {"id": 8, "pH": 6.402, "temp": 12.63}, {"id": 8, "pH": 6.535, "temp": 11.45}, {"id": 8, "pH": 6.696, "temp": 10.0},
      {"id": 9, "pH": 5.0, "temp": 20.93}, {"id": 9, "pH": 5.064, "temp": 20.22}, {"id": 9, "pH": 5.137, "temp": 19.73}, {"id": 9, "pH": 5.275, "temp": 18.73}, {"id": 9, "pH": 5.435, "temp": 17.31}, {"id": 9, "pH": 5.573, "temp": 15.89}, {"id": 9, "pH": 5.687, "temp": 14.83}, {"id": 9, "pH": 5.848, "temp": 13.69}, {"id": 9, "pH": 6.008, "temp": 12.63}, {"id": 9, "pH": 6.146, "temp": 11.81}, {"id": 9, "pH": 6.272, "temp": 11.1}, {"id": 9, "pH": 6.398, "temp": 10.0},
      {"id": 10, "pH": 5.0, "temp": 17.84}, {"id": 10, "pH": 5.115, "temp": 16.78}, {"id": 10, "pH": 5.241, "temp": 15.71}, {"id": 10, "pH": 5.39, "temp": 14.65}, {"id": 10, "pH": 5.55, "temp": 13.58}, {"id": 10, "pH": 5.687, "temp": 12.63}, {"id": 10, "pH": 5.818, "temp": 11.63}, {"id": 10, "pH": 5.94, "temp": 10.92}, {"id": 10, "pH": 6.077, "temp": 10.0}
    ],
    "B3_labels": [
      {"label": "2.0", "pH": 6.34, "temp": 44.57},
      {"label": "2.5", "pH": 5.669, "temp": 42.23}, {"label": "2.5", "pH": 6.237, "temp": 40.67}, {"label": "2.5", "pH": 6.856, "temp": 40.31},
      {"label": "2.5", "pH": 5.332, "temp": 34.53}, {"label": "2.5", "pH": 5.699, "temp": 26.61}, {"label": "2.5", "pH": 6.242, "temp": 21.57}, {"label": "2.5", "pH": 6.856, "temp": 19.51},
      {"label": "3.0", "pH": 6.822, "temp": 33.29}, {"label": "3.0", "pH": 6.231, "temp": 35.49}, {"label": "3.0", "pH": 5.917, "temp": 30.16}, {"label": "3.0", "pH": 6.432, "temp": 25.37}, {"label": "3.0", "pH": 7.062, "temp": 25.58},
      {"label": "2.0", "pH": 5.268, "temp": 29.03}, {"label": "2.0", "pH": 5.738, "temp": 22.35}, {"label": "2.0", "pH": 6.311, "temp": 18.2}, {"label": "2.0", "pH": 6.897, "temp": 14.83},
      {"label": "1.5", "pH": 5.165, "temp": 26.08}, {"label": "1.5", "pH": 5.669, "temp": 20.04}, {"label": "1.5", "pH": 6.244, "temp": 16.07}, {"label": "1.5", "pH": 6.822, "temp": 11.92},
      {"label": "1.0", "pH": 5.28, "temp": 21.29}, {"label": "1.0", "pH": 5.818, "temp": 16.18}, {"label": "1.0", "pH": 6.402, "temp": 12.63},
      {"label": "0.5", "pH": 5.137, "temp": 19.73}, {"label": "0.5", "pH": 5.687, "temp": 14.83}, {"label": "0.5", "pH": 6.272, "temp": 11.1},
      {"label": "0.0", "pH": 5.241, "temp": 15.71}, {"label": "0.0", "pH": 5.818, "temp": 11.63}
    ]
  },
  "vconcat": [
    {
      "title": {"text": "A", "orient": "left", "angle": 0, "fontSize": 22, "fontWeight": "bold", "align": "right", "baseline": "middle", "offset": 9, "dy": 11},
      "bounds": "flush",
      "spacing": 60,
      "hconcat": [
        {
          "width": 324, "height": 323,
          "title": {"text": "2 h", "offset": 10},
          "encoding": {
            "x": {"field": "pH", "type": "quantitative", "scale": {"domain": [5, 7.2], "nice": false, "zero": false}, "axis": {"title": "pH", "values": [5, 5.5, 6, 6.5, 7], "format": ".1f"}},
            "y": {"field": "temp", "type": "quantitative", "scale": {"domain": [10, 45], "nice": false, "zero": false}, "axis": {"title": "Temperature (°C)", "values": [10, 15, 20, 25, 30, 35, 40, 45]}}
          },
          "layer": [
            {"data": {"name": "A1_lines"}, "mark": {"type": "line", "clip": true}, "encoding": {"detail": {"field": "id", "type": "nominal"}, "order": {"value": null}}},
            {"data": {"name": "A1_labels"}, "mark": {"type": "text", "fill": "white", "stroke": "white", "strokeWidth": 4}, "encoding": {"text": {"field": "label"}}},
            {"data": {"name": "A1_labels"}, "mark": {"type": "text"}, "encoding": {"text": {"field": "label"}}}
          ]
        },
        {
          "bounds": "flush",
          "spacing": 47,
          "hconcat": [
            {
              "width": 323, "height": 323,
              "title": {"text": "6 h", "offset": 10},
              "encoding": {
                "x": {"field": "pH", "type": "quantitative", "scale": {"domain": [5, 7.2], "nice": false, "zero": false}, "axis": {"title": "pH", "values": [5, 5.5, 6, 6.5, 7], "format": ".1f"}},
                "y": {"field": "temp", "type": "quantitative", "scale": {"domain": [10, 45], "nice": false, "zero": false}, "axis": {"title": "Temperature (°C)", "values": [10, 15, 20, 25, 30, 35, 40, 45]}}
              },
              "layer": [
                {"data": {"name": "A2_lines"}, "mark": {"type": "line", "clip": true}, "encoding": {"detail": {"field": "id", "type": "nominal"}, "order": {"value": null}}},
                {"data": {"name": "A2_labels"}, "mark": {"type": "text", "fill": "white", "stroke": "white", "strokeWidth": 4}, "encoding": {"text": {"field": "label"}}},
                {"data": {"name": "A2_labels"}, "mark": {"type": "text"}, "encoding": {"text": {"field": "label"}}}
              ]
            },
            {
              "width": 324, "height": 323,
              "title": {"text": "24 h", "offset": 3},
              "encoding": {
                "x": {"field": "pH", "type": "quantitative", "scale": {"domain": [5, 7.2], "nice": false, "zero": false}, "axis": {"title": "pH", "values": [5, 5.5, 6, 6.5, 7], "format": ".1f"}},
                "y": {"field": "temp", "type": "quantitative", "scale": {"domain": [10, 45], "nice": false, "zero": false}, "axis": {"title": "Temperature (°C)", "values": [10, 15, 20, 25, 30, 35, 40, 45]}}
              },
              "layer": [
                {"data": {"name": "A3_lines"}, "mark": {"type": "line", "clip": true}, "encoding": {"detail": {"field": "id", "type": "nominal"}, "order": {"value": null}}},
                {"data": {"name": "A3_labels"}, "mark": {"type": "text", "fill": "white", "stroke": "white", "strokeWidth": 4}, "encoding": {"text": {"field": "label"}}},
                {"data": {"name": "A3_labels"}, "mark": {"type": "text"}, "encoding": {"text": {"field": "label"}}}
              ]
            }
          ]
        }
      ]
    },
    {
      "title": {"text": "B", "orient": "left", "angle": 0, "fontSize": 22, "fontWeight": "bold", "align": "right", "baseline": "middle", "offset": 9, "dy": -19},
      "bounds": "flush",
      "spacing": 57,
      "hconcat": [
        {
          "width": 322, "height": 329,
          "encoding": {
            "x": {"field": "pH", "type": "quantitative", "scale": {"domain": [5, 7.2], "nice": false, "zero": false}, "axis": {"title": "pH", "values": [5, 5.5, 6, 6.5, 7], "format": ".1f"}},
            "y": {"field": "temp", "type": "quantitative", "scale": {"domain": [10, 45], "nice": false, "zero": false}, "axis": {"title": "Temperature (°C)", "values": [10, 15, 20, 25, 30, 35, 40, 45]}}
          },
          "layer": [
            {"data": {"name": "B1_lines"}, "mark": {"type": "line", "clip": true}, "encoding": {"detail": {"field": "id", "type": "nominal"}, "order": {"value": null}}},
            {"data": {"name": "B1_labels"}, "mark": {"type": "text", "fill": "white", "stroke": "white", "strokeWidth": 4}, "encoding": {"text": {"field": "label"}}},
            {"data": {"name": "B1_labels"}, "mark": {"type": "text"}, "encoding": {"text": {"field": "label"}}}
          ]
        },
        {
          "bounds": "flush",
          "spacing": 49,
          "hconcat": [
            {
              "width": 326, "height": 329,
              "encoding": {
                "x": {"field": "pH", "type": "quantitative", "scale": {"domain": [5, 7.2], "nice": false, "zero": false}, "axis": {"title": "pH", "values": [5, 5.5, 6, 6.5, 7], "format": ".1f"}},
                "y": {"field": "temp", "type": "quantitative", "scale": {"domain": [10, 45], "nice": false, "zero": false}, "axis": {"title": "Temperature (°C)", "values": [10, 15, 20, 25, 30, 35, 40, 45]}}
              },
              "layer": [
                {"data": {"name": "B2_lines"}, "mark": {"type": "line", "clip": true}, "encoding": {"detail": {"field": "id", "type": "nominal"}, "order": {"value": null}}},
                {"data": {"name": "B2_labels"}, "mark": {"type": "text", "fill": "white", "stroke": "white", "strokeWidth": 4}, "encoding": {"text": {"field": "label"}}},
                {"data": {"name": "B2_labels"}, "mark": {"type": "text"}, "encoding": {"text": {"field": "label"}}}
              ]
            },
            {
              "width": 320, "height": 329,
              "encoding": {
                "x": {"field": "pH", "type": "quantitative", "scale": {"domain": [5, 7.2], "nice": false, "zero": false}, "axis": {"title": "pH", "values": [5, 5.5, 6, 6.5, 7], "format": ".1f"}},
                "y": {"field": "temp", "type": "quantitative", "scale": {"domain": [10, 45], "nice": false, "zero": false}, "axis": {"title": "Temperature (°C)", "values": [10, 15, 20, 25, 30, 35, 40, 45]}}
              },
              "layer": [
                {"data": {"name": "B3_lines"}, "mark": {"type": "line", "clip": true}, "encoding": {"detail": {"field": "id", "type": "nominal"}, "order": {"value": null}}},
                {"data": {"name": "B3_labels"}, "mark": {"type": "text", "fill": "white", "stroke": "white", "strokeWidth": 4}, "encoding": {"text": {"field": "label"}}},
                {"data": {"name": "B3_labels"}, "mark": {"type": "text"}, "encoding": {"text": {"field": "label"}}}
              ]
            }
          ]
        }
      ]
    }
  ],
  "spacing": 33
}
